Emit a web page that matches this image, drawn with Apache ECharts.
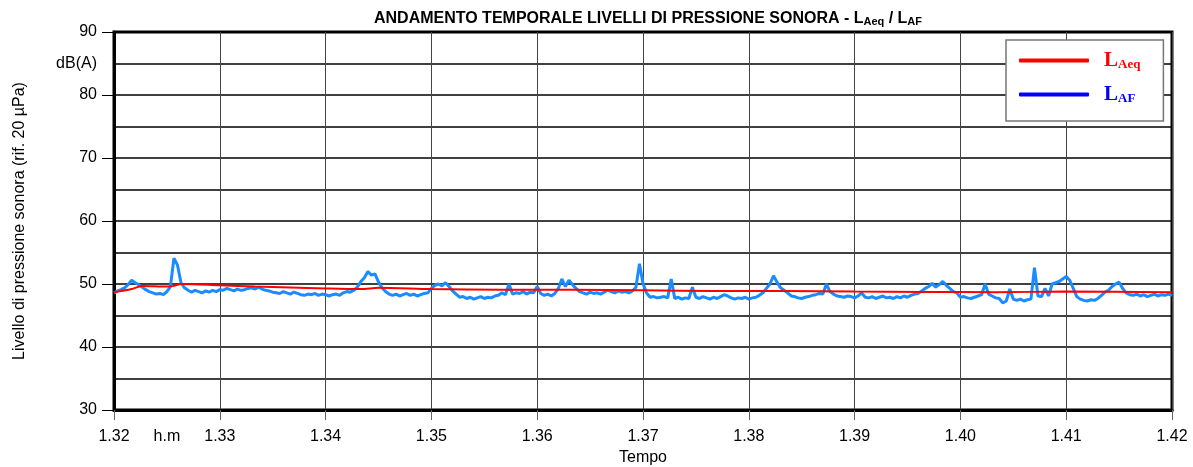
<!DOCTYPE html>
<html>
<head>
<meta charset="utf-8">
<script src="https://cdn.jsdelivr.net/npm/echarts@6/dist/echarts.min.js"></script>
<style>
html,body{margin:0;padding:0;background:#fff;}
#c{width:1193px;height:467px;}
</style>
</head>
<body>
<div id="c"></div>
<script>
// X axis: seconds from 1.32 (h.m) ; tick labels every 30 s
const xTickLabels = {0:'1.32',30:'h.m',60:'1.33',120:'1.34',180:'1.35',240:'1.36',300:'1.37',360:'1.38',420:'1.39',480:'1.40',540:'1.41',600:'1.42'};
const yTickLabels = {30:'30',40:'40',50:'50',60:'60',70:'70',80:'80',85:'dB(A)',90:'90'};

// LAF samples, one every 2 seconds starting at 1.32
const lafStepSeconds = 2;
const lafValues = [
48.6,48.9,49.1,49.4,49.9,50.6,50.2,49.9,49.5,49.1,
48.8,48.6,48.4,48.5,48.3,48.8,49.6,54.1,53.0,50.2,
49.4,49.0,48.7,49.0,48.8,48.6,48.9,48.7,49.0,48.8,
49.1,49.0,49.3,49.1,48.9,49.2,49.0,49.1,49.3,49.4,
49.2,49.5,49.2,49.0,48.9,48.7,48.6,48.5,48.8,48.6,
48.4,48.7,48.5,48.3,48.2,48.4,48.3,48.5,48.2,48.4,
48.3,48.1,48.3,48.4,48.2,48.6,48.8,48.7,49.0,49.5,
50.4,51.0,52.0,51.4,51.6,50.3,49.4,48.8,48.4,48.2,
48.4,48.1,48.3,48.5,48.2,48.4,48.1,48.3,48.5,48.6,
49.3,49.8,50.0,49.7,50.2,49.6,48.9,48.4,47.9,48.0,
47.7,47.9,47.6,47.8,48.0,47.7,47.9,47.8,48.1,48.2,
48.6,48.3,50.0,48.4,48.6,48.5,48.8,48.4,48.7,48.6,
49.6,48.5,48.2,48.4,48.1,48.5,49.3,50.8,49.6,50.6,
49.9,49.3,48.8,48.6,48.4,48.7,48.5,48.6,48.4,48.7,
49.0,48.8,48.6,48.9,48.7,48.8,48.6,48.9,49.5,53.2,
50.1,48.6,47.9,48.0,47.8,47.9,48.0,47.8,50.8,47.7,
47.9,47.6,47.8,47.7,49.5,47.9,47.7,48.0,47.8,47.6,
47.9,47.7,48.0,48.3,48.1,47.8,47.6,47.8,47.7,47.9,
47.6,47.8,47.9,48.2,48.6,49.3,50.0,51.3,50.3,49.4,
49.0,48.6,48.1,48.0,47.8,47.7,47.9,48.0,48.2,48.3,
48.5,48.4,50.0,48.8,48.4,48.1,48.0,47.9,48.1,48.0,
47.8,48.1,48.6,47.9,47.8,48.0,47.7,47.9,48.1,47.8,
47.9,47.7,48.0,47.8,48.1,47.9,48.2,48.4,48.5,48.9,
49.3,49.6,50.1,49.5,49.9,50.4,49.8,49.3,48.8,48.6,
47.9,48.0,47.8,47.7,47.9,48.1,48.3,50.0,48.4,48.1,
47.8,47.7,47.0,47.3,49.2,47.6,47.4,47.6,47.3,47.5,
47.6,52.6,48.1,48.0,49.3,48.1,50.0,50.2,50.4,50.8,
51.2,50.6,49.3,48.0,47.6,47.4,47.3,47.5,47.4,47.7,
48.2,48.7,49.0,49.6,50.0,50.3,49.3,48.6,48.3,48.2,
48.4,48.1,48.3,48.0,48.2,48.4,48.1,48.3,48.2,48.4,
48.2
];

// LAeq running value (seconds, dB)
const laeqSeconds = [0,10,16,30,34,38,60,80,120,140,150,180,220,260,300,340,380,420,460,500,540,600];
const laeqValues  = [48.7,49.2,49.7,49.6,49.7,50.0,49.8,49.6,49.3,49.2,49.4,49.2,49.1,49.1,49.0,48.9,48.9,48.8,48.75,48.7,48.8,48.7];

const lafData = lafValues.map((v,i)=>[i*lafStepSeconds, v]);
const laeqData = laeqSeconds.map((s,i)=>[s, laeqValues[i]]);

const chart = echarts.init(document.getElementById('c'));
const FONT = '"Liberation Sans", Arial, sans-serif';
chart.setOption({
  animation:false,
  backgroundColor:'#fff',
  title:{
    text:'{t|ANDAMENTO TEMPORALE LIVELLI DI PRESSIONE SONORA - L}{s|Aeq}{t| / L}{s|AF}',
    left:643, top:5, textAlign:'center',
    textStyle:{
      rich:{
        t:{fontFamily:FONT,fontWeight:'bold',fontSize:16,color:'#000'},
        s:{fontFamily:FONT,fontWeight:'bold',fontSize:11,color:'#000',padding:[6,0,0,0]}
      }
    }
  },
  legend:{
    left:1006, top:40, width:130,
    orient:'vertical',
    backgroundColor:'#fff', borderColor:'#777', borderWidth:1.5,
    padding:[10,23,16,13],
    itemGap:13, itemWidth:70, itemHeight:4,
    data:[
      {name:'LAeq', icon:'roundRect', itemStyle:{color:'#ff0000'}},
      {name:'LAF', icon:'roundRect', itemStyle:{color:'#0000ff'}}
    ],
    formatter:function(n){ return n==='LAeq' ? '{rm|L}{rs|Aeq}' : '{bm|L}{bs|AF}'; },
    textStyle:{
      padding:[0,0,0,10],
      rich:{
        rm:{fontFamily:'"Liberation Serif", serif',fontWeight:'bold',fontSize:21,color:'#ff0000'},
        rs:{fontFamily:'"Liberation Serif", serif',fontWeight:'bold',fontSize:13,color:'#ff0000',padding:[8,0,0,0]},
        bm:{fontFamily:'"Liberation Serif", serif',fontWeight:'bold',fontSize:21,color:'#0000ff'},
        bs:{fontFamily:'"Liberation Serif", serif',fontWeight:'bold',fontSize:13,color:'#0000ff',padding:[8,0,0,0]}
      }
    }
  },
  grid:{left:114, right:21, top:32, bottom:57, show:true, borderColor:'#000', borderWidth:3, backgroundColor:'transparent', outerBoundsMode:'none', containLabel:false},
  xAxis:[
    {type:'value', min:0, max:600, interval:30,
     name:'Tempo', nameLocation:'middle', nameGap:40,
     nameTextStyle:{fontFamily:FONT,fontSize:16,color:'#000'},
     axisLine:{show:true,lineStyle:{color:'#000',width:3}},
     axisTick:{show:false},
     splitLine:{show:false},
     axisLabel:{margin:19,fontFamily:FONT,fontSize:16,color:'#000',
       formatter:function(v){return xTickLabels[v]!==undefined?xTickLabels[v]:'';}}
    },
    {type:'value', min:0, max:600, interval:60, position:'bottom',
     axisLine:{show:false},
     axisTick:{show:true,length:10,lineStyle:{color:'#666',width:1}},
     axisLabel:{show:false},
     splitLine:{show:true,lineStyle:{color:'#444',width:1}}
    }
  ],
  yAxis:[
    {type:'value', min:30, max:90, interval:5,
     name:'Livello di pressione sonora (rif. 20 µPa)', nameLocation:'middle', nameGap:86,
     nameTextStyle:{fontFamily:FONT,fontSize:16,color:'#000'},
     axisLine:{show:true,lineStyle:{color:'#000',width:3}},
     axisTick:{show:false},
     splitLine:{show:true,lineStyle:{color:'#000',width:1.5}},
     axisLabel:{margin:17,fontFamily:FONT,fontSize:16,color:'#000',
       formatter:function(v){return yTickLabels[v]!==undefined?yTickLabels[v]:'';}}
    },
    {type:'value', min:30, max:90, interval:10, position:'left',
     axisLine:{show:false},
     axisTick:{show:true,length:12,lineStyle:{color:'#000',width:1}},
     axisLabel:{show:false},
     splitLine:{show:false}
    }
  ],
  series:[
    {name:'LAF', type:'line', data:lafData, xAxisIndex:0, yAxisIndex:0,
     showSymbol:false, symbol:'none', lineStyle:{color:'#1a8cff',width:3}, itemStyle:{color:'#1a8cff'}, z:3},
    {name:'LAeq', type:'line', data:laeqData, xAxisIndex:0, yAxisIndex:0, smooth:0.3,
     showSymbol:false, symbol:'none', lineStyle:{color:'#ff0000',width:2}, itemStyle:{color:'#ff0000'}, z:4}
  ]
});
</script>
</body>
</html>
